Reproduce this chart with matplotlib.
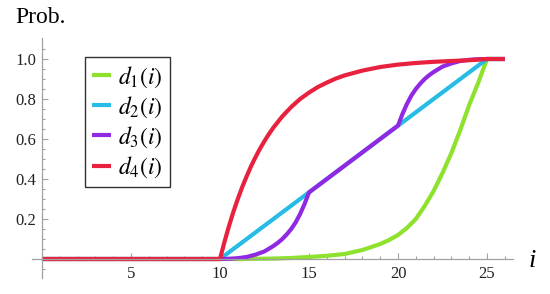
import numpy as np
import matplotlib
matplotlib.use("Agg")
import matplotlib.pyplot as plt

plt.rcParams['font.family'] = ['Liberation Serif', 'DejaVu Serif']
plt.rcParams['mathtext.fontset'] = 'stix'

# ---- data ----
x_d1 = [0, 10, 11, 12, 13, 14, 15, 16, 17, 18, 19, 19.5, 20, 20.5, 21, 21.5, 22,
        22.5, 23, 23.5, 24, 24.25, 24.5, 24.75, 25, 26]
d1 = [0, 0, 0.0, 0.001, 0.002, 0.005, 0.01, 0.016, 0.025, 0.045, 0.075, 0.095, 0.12,
      0.155, 0.2, 0.265, 0.34, 0.43, 0.53, 0.645, 0.77, 0.825, 0.88, 0.94, 1.0, 1.0]

x_d2 = [0, 10, 25, 26]
d2 = [0, 0, 1.0, 1.0]

x_d3 = [0, 10, 10.5, 11, 11.5, 12, 12.5, 13, 13.25, 13.5, 13.75, 14, 14.25, 14.5,
        14.75, 15, 20, 20.25, 20.5, 20.75, 21, 21.25, 21.5, 21.75, 22, 22.5, 23,
        23.5, 24, 24.5, 25, 26]
d3 = [0, 0, 0.001, 0.004, 0.01, 0.022, 0.038, 0.065, 0.081, 0.1, 0.123, 0.15, 0.183,
      0.225, 0.275, 0.333, 0.667, 0.725, 0.775, 0.817, 0.85, 0.877, 0.9, 0.919, 0.935,
      0.962, 0.978, 0.99, 0.996, 0.999, 1.0, 1.0]

x_d4 = [0, 10, 10.25, 10.5, 10.75, 11, 11.25, 11.5, 11.75, 12, 12.25, 12.5, 12.75,
        13, 13.5, 14, 14.5, 15, 15.5, 16, 16.5, 17, 18, 19, 20, 21, 22, 23, 24, 25, 26]
d4 = [0, 0, 0.085, 0.163, 0.235, 0.30, 0.36, 0.414, 0.465, 0.51, 0.552, 0.59, 0.625,
      0.657, 0.713, 0.76, 0.80, 0.832, 0.86, 0.882, 0.902, 0.918, 0.942, 0.96, 0.972,
      0.98, 0.986, 0.99, 0.994, 1.0, 1.0]

labels = [r'$d_{\mathit{1}}(i)$', r'$d_{\mathit{2}}(i)$',
          r'$d_{\mathit{3}}(i)$', r'$d_{\mathit{4}}(i)$']
colors = ['#8ee12c', '#27bce6', '#9129e4', '#e8223e']

x_major = [5, 10, 15, 20, 25]
y_major = [0.2, 0.4, 0.6, 0.8, 1.0]

# ---- figure ----
W, H = 550, 294
fig = plt.figure(figsize=(W / 100, H / 100), dpi=100)
ax = fig.add_axes([32 / W, 16 / H, (513 - 32) / W, (256 - 16) / H])

for xs, ys, c, lab in zip([x_d1, x_d2, x_d3, x_d4], [d1, d2, d3, d4], colors, labels):
    ax.plot(xs, ys, color=c, lw=3.0, label=lab, solid_capstyle='butt',
            solid_joinstyle='round', clip_on=False)

ax.set_xlim(-0.56, 26.46)
ax.set_ylim(-0.095, 1.105)

for s in ['top', 'right']:
    ax.spines[s].set_visible(False)
ax.spines['left'].set_position(('data', 0))
ax.spines['bottom'].set_position(('data', 0))
for s in ['left', 'bottom']:
    ax.spines[s].set_color('#a0a0a0')
    ax.spines[s].set_linewidth(0.9)

ax.set_xticks(x_major)
ax.set_xticklabels([str(v) for v in x_major])
ax.set_xticks([v for v in range(1, 27) if v % 5 != 0], minor=True)
ax.set_yticks(y_major)
ax.set_yticklabels([f'{v:.1f}' for v in y_major])
ax.set_yticks([round(0.05 * k, 2) for k in range(-1, 22) if k % 4 != 0], minor=True)

ax.tick_params(which='both', direction='in', color='#a0a0a0', width=0.8,
               labelsize=12, labelcolor='#222222')
ax.tick_params(which='major', length=4.5)
ax.tick_params(which='minor', length=2.5)
ax.tick_params(axis='x', which='both', pad=5)
ax.tick_params(axis='y', which='both', pad=4)

leg = ax.legend(loc='upper left', bbox_to_anchor=(85 / W, 1 - 57 / H),
                bbox_transform=fig.transFigure, fontsize=17, frameon=True,
                fancybox=False, edgecolor='black', handlelength=0.8,
                handletextpad=0.3, labelspacing=0.2, borderpad=0.3,
                borderaxespad=0.0)
leg.get_frame().set_linewidth(1.0)
for l in leg.get_lines():
    l.set_linewidth(3.0)

fig.text(15 / W, 1 - 23 / H, 'Prob.', fontsize=17, va='baseline', ha='left')
fig.text(532 / W, 1 - 261 / H, 'i', fontsize=19, style='italic', va='center', ha='center')

fig.savefig('out.png', dpi=100)
